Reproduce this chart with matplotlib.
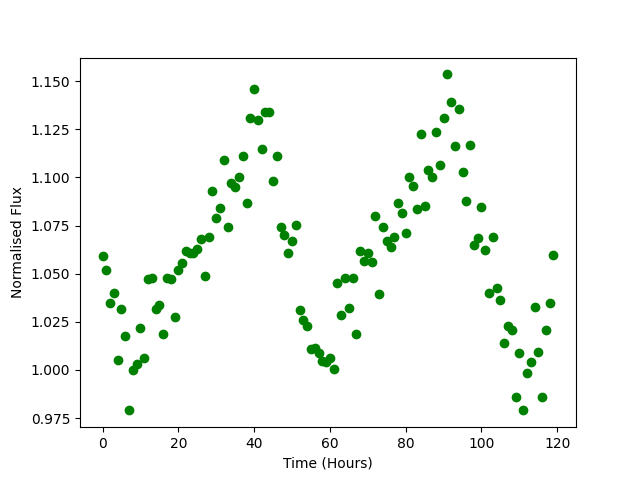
import numpy as np
import matplotlib
matplotlib.use('Agg')
import matplotlib.pyplot as plt

# Light curve readings, one per hour
time_hours = np.arange(120)
flux = [1.059, 1.052, 1.035, 1.040, 1.005, 1.0315, 1.0175, 0.979, 1.000, 1.003,
        1.022, 1.006, 1.047, 1.048, 1.0315, 1.0335, 1.0185, 1.048, 1.047, 1.0275,
        1.052, 1.0555, 1.062, 1.061, 1.061, 1.063, 1.068, 1.049, 1.069, 1.093,
        1.079, 1.084, 1.109, 1.0745, 1.097, 1.095, 1.100, 1.111, 1.0865, 1.131,
        1.146, 1.130, 1.115, 1.134, 1.134, 1.098, 1.111, 1.0745, 1.070, 1.061,
        1.067, 1.0755, 1.031, 1.026, 1.023, 1.011, 1.0115, 1.009, 1.0045, 1.004,
        1.006, 1.0005, 1.045, 1.0285, 1.048, 1.032, 1.048, 1.0185, 1.062, 1.0565,
        1.061, 1.056, 1.080, 1.0395, 1.074, 1.067, 1.064, 1.069, 1.0865, 1.0815,
        1.071, 1.100, 1.0955, 1.0835, 1.1225, 1.085, 1.104, 1.100, 1.1235, 1.1065,
        1.131, 1.1535, 1.139, 1.1165, 1.1355, 1.103, 1.0875, 1.117, 1.065, 1.0685,
        1.0845, 1.0625, 1.040, 1.069, 1.0425, 1.0365, 1.014, 1.023, 1.021, 0.986,
        1.009, 0.979, 0.9985, 1.004, 1.0325, 1.0095, 0.986, 1.021, 1.035, 1.0595]

plt.figure(figsize=(6.4, 4.8), dpi=100)
plt.plot(time_hours, flux, 'go')
plt.xlabel('Time (Hours)')
plt.ylabel('Normalised Flux')
plt.savefig('out.png')
